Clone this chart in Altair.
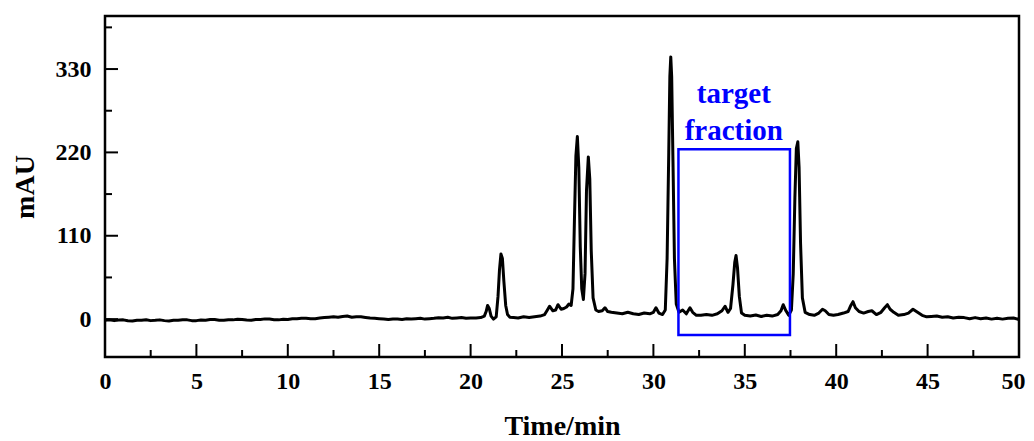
import altair as alt
import pandas as pd

# ---- chromatogram data ----
time_min = [
    0, 0.25, 0.5, 0.75, 1, 1.25, 1.5, 1.75, 2, 2.25, 2.5, 2.75, 3, 3.25, 3.5, 3.75,
    4, 4.25, 4.5, 4.75, 5, 5.25, 5.5, 5.75, 6, 6.25, 6.5, 6.75, 7, 7.25, 7.5, 7.75,
    8, 8.25, 8.5, 8.75, 9, 9.25, 9.5, 9.75, 10, 10.25, 10.5, 10.75, 11, 11.25, 11.5, 11.75,
    12, 12.25, 12.5, 12.75, 13, 13.25, 13.5, 13.75, 14, 14.25, 14.5, 14.75, 15, 15.25, 15.5, 15.75,
    16, 16.25, 16.5, 16.75, 17, 17.25, 17.5, 17.75, 18, 18.25, 18.5, 18.75, 19, 19.25, 19.5, 19.75,
    20, 20.3, 20.55, 20.75, 20.85, 20.93, 21.02, 21.12, 21.25, 21.4, 21.5, 21.58, 21.66, 21.74,
    21.82, 21.92, 22.02, 22.15, 22.35, 22.6, 22.9, 23.2, 23.5, 23.8, 24.05, 24.2, 24.32, 24.5,
    24.65, 24.78, 24.95, 25.1, 25.25, 25.38, 25.5, 25.6, 25.68, 25.76, 25.84, 25.92, 26.0,
    26.08, 26.17, 26.26, 26.34, 26.44, 26.52, 26.6, 26.7, 26.85, 27.0, 27.2, 27.35, 27.5,
    27.7, 28.0, 28.3, 28.6, 28.9, 29.2, 29.5, 29.8, 30.0, 30.14, 30.3, 30.5, 30.65, 30.75,
    30.84, 30.9, 30.95, 31.0, 31.07, 31.15, 31.25, 31.4, 31.6, 31.8, 32.0, 32.15, 32.35,
    32.6, 32.9, 33.2, 33.5, 33.75, 33.92, 34.08, 34.22, 34.35, 34.45, 34.52, 34.6, 34.7,
    34.82, 35.0, 35.3, 35.6, 35.9, 36.2, 36.5, 36.8, 36.98, 37.1, 37.25, 37.4, 37.55, 37.65,
    37.74, 37.82, 37.9, 37.97, 38.05, 38.15, 38.3, 38.55, 38.8, 39.05, 39.25, 39.4, 39.6,
    39.85, 40.1, 40.4, 40.65, 40.8, 40.92, 41.05, 41.25, 41.5, 41.75, 41.95, 42.2, 42.45,
    42.65, 42.8, 42.95, 43.15, 43.4, 43.7, 43.95, 44.2, 44.45, 44.7, 44.95, 45.2, 45.5,
    45.8, 46.1, 46.4, 46.7, 47.0, 47.3, 47.6, 47.9, 48.2, 48.5, 48.8, 49.1, 49.4, 49.7, 50.0,
]
mau = [
    -1.5, -1.0, -2.0, -1.2, -1.0, -2.2, -2.5, -1.4, -1.5, -0.8, -2.0, -1.6, -1.0, -2.0, -2.5, -1.5,
    -1.5, -0.8, -1.0, -2.0, -2.0, -1.2, -1.5, -0.6, -0.5, -1.4, -1.5, -0.8, -1.0, -0.3, -0.5, -1.2,
    -1.5, -0.6, -0.5, 0.3, 0.0, -0.8, -1.0, -0.2, -0.5, 0.5, 0.5, 1.2, 1.0, 0.4, 0.5, 1.4,
    2.0, 2.6, 3.0, 2.4, 3.5, 4.0, 2.5, 3.2, 3.0, 2.2, 1.5, 1.0, 0.5, 0.0, -0.5, 0.2,
    0.0, -0.4, 0.5, 0.0, 0.5, 1.0, 0.0, 0.6, 1.0, 1.8, 1.5, 2.4, 1.0, 1.6, 2.0, 1.2,
    1.5, 1.5, 2.0, 4.0, 10.0, 18.0, 14.0, 4.0, 0.0, 3.0, 30.0, 65.0, 86.0, 80.0,
    50.0, 18.0, 6.0, 2.5, 2.0, 1.5, 3.0, 2.0, 3.0, 4.0, 6.0, 12.0, 17.0, 11.0,
    12.0, 19.0, 13.0, 14.0, 16.0, 20.0, 18.0, 40.0, 130.0, 215.0, 241.0, 200.0, 95.0,
    40.0, 26.0, 60.0, 170.0, 214.0, 185.0, 90.0, 28.0, 12.0, 10.0, 11.0, 15.0, 10.0,
    9.0, 8.0, 7.0, 9.0, 7.0, 6.0, 8.0, 7.0, 9.0, 15.0, 8.0, 6.0, 12.0, 80.0,
    220.0, 320.0, 346.0, 320.0, 210.0, 80.0, 20.0, 9.0, 12.0, 7.0, 15.0, 9.0, 5.0,
    5.0, 6.0, 5.0, 7.0, 11.0, 17.0, 9.0, 14.0, 45.0, 75.0, 84.0, 68.0, 30.0,
    8.0, 5.0, 4.0, 5.5, 3.5, 5.0, 4.0, 6.0, 11.0, 19.0, 11.0, 5.0, 12.0, 60.0,
    160.0, 225.0, 234.0, 200.0, 100.0, 28.0, 9.0, 6.0, 5.0, 8.0, 13.0, 11.0, 6.0,
    5.0, 6.0, 8.0, 10.0, 18.0, 23.0, 15.0, 10.0, 8.0, 10.0, 11.0, 6.0, 9.0,
    15.0, 19.0, 13.0, 9.0, 5.0, 6.0, 8.0, 13.0, 9.0, 5.0, 3.0, 3.5, 4.0,
    2.5, 3.0, 1.5, 2.5, 2.0, 0.5, 2.0, 0.5, 1.5, 0.0, 1.0, 0.0, 1.0, 1.5, -0.5,
]

# target fraction box and label
box_time = [31.37, 37.47]
box_mau = [-21, 224]
label_text = ["target", "fraction"]
label_time = [34.4, 34.4]
label_mau = [285.5, 236]

# axis ticks
x_major = [0, 5, 10, 15, 20, 25, 30, 35, 40, 45, 50]
x_minor = [2.5, 7.5, 12.5, 17.5, 22.5, 27.5, 32.5, 37.5, 42.5, 47.5]
y_major = [0, 110, 220, 330]
y_minor = [55, 165, 275, 385]

W, H = 914, 341
FONT = "Liberation Serif"

xs = alt.Scale(domain=[0, 50], nice=False, zero=False)
ys = alt.Scale(domain=[-50, 400], nice=False, zero=False)

df = pd.DataFrame({"t": time_min, "v": mau})
xaxis = alt.Axis(values=x_major, tickSize=0, domain=False, grid=False, labelFont=FONT,
                 labelFontWeight="bold", labelFontSize=24, labelColor="black", labelPadding=12,
                 labelFlush=False, labelOverlap=False,
                 labelOffset={"condition": {"test": "datum.value == 50", "value": -6}, "value": 0},
                 title="Time/min", titleFont=FONT, titleFontWeight="bold", titleFontSize=28,
                 titleColor="black", titleY=69, titleBaseline="middle")
yaxis = alt.Axis(values=y_major, tickSize=0, domain=False, grid=False, labelFont=FONT,
                 labelFontWeight="bold", labelFontSize=24, labelColor="black", labelPadding=14,
                 labelFlush=False,
                 title="mAU", titleFont=FONT, titleFontWeight="bold", titleFontSize=28,
                 titleColor="black", titleX=-80, titleBaseline="middle", titleAngle=270,
                 titleY=H / 2)

line = alt.Chart(df).mark_line(color="black", strokeWidth=3, strokeJoin="round").encode(
    x=alt.X("t:Q", scale=xs, axis=xaxis),
    y=alt.Y("v:Q", scale=ys, axis=yaxis),
)

box = alt.Chart(pd.DataFrame({"x": [box_time[0]], "x2": [box_time[1]],
                              "y": [box_mau[0]], "y2": [box_mau[1]]})).mark_rect(
    fill=None, fillOpacity=0, stroke="#0000ff", strokeWidth=2.5).encode(
    x=alt.X("x:Q", scale=xs), x2="x2:Q", y=alt.Y("y:Q", scale=ys), y2="y2:Q")

labels = alt.Chart(pd.DataFrame({"t": label_time, "v": label_mau, "s": label_text})).mark_text(
    font=FONT, fontWeight="bold", fontSize=29, color="#0000ff", align="center",
    baseline="alphabetic").encode(
    x=alt.X("t:Q", scale=xs), y=alt.Y("v:Q", scale=ys), text="s:N")

xmaj = alt.Chart(pd.DataFrame({"t": x_major})).mark_rule(color="black", strokeWidth=2).encode(
    x=alt.X("t:Q", scale=xs), y=alt.value(H), y2=alt.value(H - 13))
xmin = alt.Chart(pd.DataFrame({"t": x_minor})).mark_rule(color="black", strokeWidth=2).encode(
    x=alt.X("t:Q", scale=xs), y=alt.value(H), y2=alt.value(H - 7))
ymaj = alt.Chart(pd.DataFrame({"v": y_major})).mark_rule(color="black", strokeWidth=2).encode(
    y=alt.Y("v:Q", scale=ys), x=alt.value(0), x2=alt.value(13))
ymin = alt.Chart(pd.DataFrame({"v": y_minor})).mark_rule(color="black", strokeWidth=2).encode(
    y=alt.Y("v:Q", scale=ys), x=alt.value(0), x2=alt.value(7))

chart = alt.layer(line, box, labels, xmaj, xmin, ymaj, ymin).properties(
    width=W, height=H,
    autosize=alt.AutoSizeParams(type="none"),
    padding={"left": 97, "top": 8, "right": 7, "bottom": 84},
    background="white",
).configure_view(stroke="black", strokeWidth=2.5)

chart.save("out.html", embed_options={"renderer": "svg", "actions": False})
